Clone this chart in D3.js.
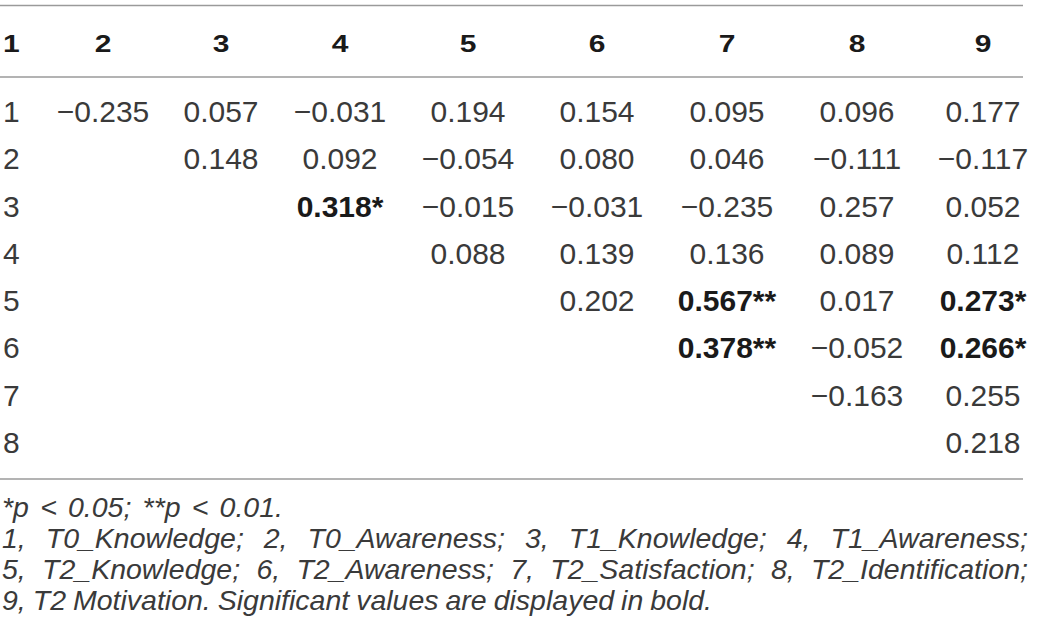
<!DOCTYPE html>
<html>
<head>
<meta charset="utf-8">
<script src="https://cdn.jsdelivr.net/npm/d3@7"></script>
<style>
  html, body { margin: 0; padding: 0; background: #fff; }
  svg { display: block; }
  text { font-family: "Liberation Sans", Arial, Helvetica, sans-serif; }
</style>
</head>
<body>
<svg id="chart" width="1039" height="640"></svg>
<script>
// column headers (variable numbers) and row labels
var headers = ['1', '2', '3', '4', '5', '6', '7', '8', '9'];
var rowLabels = ['1', '2', '3', '4', '5', '6', '7', '8'];

// upper triangle of the correlation matrix, one array per row (columns start after the diagonal)
var row1 = [-0.235, 0.057, -0.031, 0.194, 0.154, 0.095, 0.096, 0.177];
var row2 = [0.148, 0.092, -0.054, 0.080, 0.046, -0.111, -0.117];
var row3 = [0.318, -0.015, -0.031, -0.235, 0.257, 0.052];
var row4 = [0.088, 0.139, 0.136, 0.089, 0.112];
var row5 = [0.202, 0.567, 0.017, 0.273];
var row6 = [0.378, -0.052, 0.266];
var row7 = [-0.163, 0.255];
var row8 = [0.218];
var rows = [row1, row2, row3, row4, row5, row6, row7, row8];

// significance marks keyed "row-col"
var stars = { '3-4': '*', '5-7': '**', '5-9': '*', '6-7': '**', '6-9': '*' };

var notes = [
  '*p < 0.05; **p < 0.01.',
  '1, T0_Knowledge; 2, T0_Awareness; 3, T1_Knowledge; 4, T1_Awareness;',
  '5, T2_Knowledge; 6, T2_Awareness; 7, T2_Satisfaction; 8, T2_Identification;',
  '9, T2 Motivation. Significant values are displayed in bold.'
];
// right edge each note line is set to (null = natural width)
var noteRight = [283, 1028, 1028, 712];

var svg = d3.select('#chart');
var lineRight = 1023;

// column centres follow the table's auto-sized columns
var x = d3.scaleOrdinal().domain(headers.slice(1))
  .range([103, 221, 340, 468, 597, 727, 857, 983]);
var y = d3.scaleLinear().domain([1, 8]).range([122, 453]);

var fmt = function(v){
  var s = d3.format('.3f')(Math.abs(v));
  return (v < 0 ? '\u2212' : '') + s;
};

// rules
[5.5, 77, 479].forEach(function(yy){
  svg.append('line').attr('x1', 0).attr('x2', lineRight)
    .attr('y1', yy).attr('y2', yy)
    .attr('stroke', '#9a9a9a').attr('stroke-width', 1.5);
});

// header (the source face is wide and short)
svg.append('g').selectAll('text').data(headers).enter().append('text')
  .attr('transform', function(d, i){
    return 'translate(' + (i === 0 ? 3 : x(d)) + ',52) scale(1.25,1)';
  })
  .attr('text-anchor', function(d, i){ return i === 0 ? 'start' : 'middle'; })
  .attr('font-size', 24).attr('font-weight', 'bold').attr('fill', '#1a1a1a')
  .text(function(d){ return d; });

// row labels
svg.append('g').selectAll('text').data(rowLabels).enter().append('text')
  .attr('x', 3).attr('y', function(d){ return y(+d); })
  .attr('font-size', 30).attr('fill', '#3a3a3a')
  .text(function(d){ return d; });

// cells
var cells = [];
rows.forEach(function(r, ri){
  r.forEach(function(v, ci){
    var rr = ri + 1, cc = rr + 1 + ci;
    cells.push({ r: rr, c: String(cc), v: v, star: stars[rr + '-' + cc] || '' });
  });
});

svg.append('g').selectAll('text').data(cells).enter().append('text')
  .attr('x', function(d){ return x(d.c); })
  .attr('y', function(d){ return y(d.r); })
  .attr('text-anchor', 'middle')
  .attr('font-size', 30)
  .attr('font-weight', function(d){ return d.star ? 'bold' : 'normal'; })
  .attr('fill', function(d){ return d.star ? '#1a1a1a' : '#3a3a3a'; })
  .text(function(d){ return fmt(d.v) + d.star; });

// footnotes
var ny = d3.scaleLinear().domain([0, 3]).range([517, 610]);
svg.append('g').selectAll('text').data(notes).enter().append('text')
  .attr('x', 2).attr('y', function(d, i){ return ny(i); })
  .attr('font-size', 28.5).attr('font-style', 'italic').attr('fill', '#3a3a3a')
  .text(function(d){ return d; })
  .each(function(d, i){
    if (noteRight[i] == null) return;
    var w = this.getComputedTextLength();
    var gaps = d.split(' ').length - 1;
    d3.select(this).style('word-spacing', ((noteRight[i] - 2 - w) / gaps) + 'px');
  });
</script>
</body>
</html>
